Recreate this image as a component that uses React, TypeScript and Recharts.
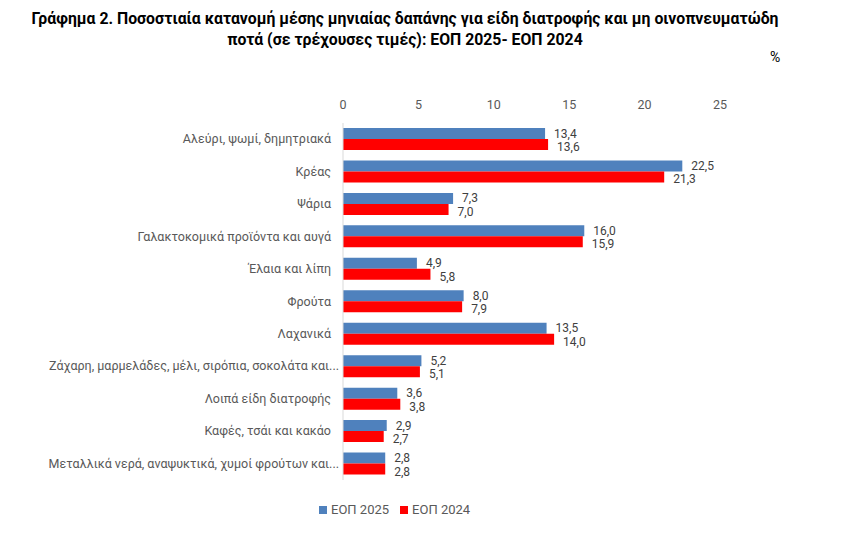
import React from 'react';
import { BarChart, Bar, XAxis, YAxis, LabelList } from 'recharts';

const categories = [
  'Αλεύρι, ψωμί, δημητριακά',
  'Κρέας',
  'Ψάρια',
  'Γαλακτοκομικά προϊόντα και αυγά',
  'Έλαια και λίπη',
  'Φρούτα',
  'Λαχανικά',
  'Ζάχαρη, μαρμελάδες, μέλι, σιρόπια, σοκολάτα και...',
  'Λοιπά είδη διατροφής',
  'Καφές, τσάι και κακάο',
  'Μεταλλικά νερά, αναψυκτικά, χυμοί φρούτων και...',
];
const eop2025 = [13.4, 22.5, 7.3, 16.0, 4.9, 8.0, 13.5, 5.2, 3.6, 2.9, 2.8];
const eop2024 = [13.6, 21.3, 7.0, 15.9, 5.8, 7.9, 14.0, 5.1, 3.8, 2.7, 2.8];
const xTicks = [0, 5, 10, 15, 20, 25];
const seriesNames = ['ΕΟΠ 2025', 'ΕΟΠ 2024'];

const data = categories.map((name, i) => ({ name, eop2025: eop2025[i], eop2024: eop2024[i] }));

const FONT = 'Roboto, "Noto Sans", sans-serif';
const BLUE = '#4f81bd';
const RED = '#ff0000';

const fmt = (v: any) => Number(v).toFixed(1).replace('.', ',');

const CategoryTick = (props: any) => {
  const { x, y, payload } = props;
  const label: string = payload.value;
  // excel leaves a bit of room after the untruncated names
  const shift = label.endsWith('...') ? -4 : 4;
  return (
    <text x={x - shift} y={y} dy={4} textAnchor="end" fill="#595959" fontSize={12.5} fontFamily={FONT}>
      {label}
    </text>
  );
};

// value label next to the bar end, nudged a little so the pair does not collide
const makeValueLabel = (dy: number) => (props: any) => {
  const { x, y, width, height, value } = props;
  return (
    <text
      x={x + width + 9}
      y={y + height / 2 + dy}
      dominantBaseline="central"
      fill="#404040"
      fontSize={12}
      fontFamily={FONT}
    >
      {fmt(value)}
    </text>
  );
};

export default function App() {
  return (
    <div style={{ position: 'absolute', left: 0, top: 0, width: 842, height: 534, background: '#fff' }}>
      <div
        style={{
          position: 'absolute',
          left: 0,
          top: 8,
          width: 810,
          textAlign: 'center',
          fontFamily: FONT,
          fontWeight: 700,
          fontSize: 15.8,
          lineHeight: '21px',
          color: '#000',
          whiteSpace: 'nowrap',
        }}
      >
        Γράφημα 2. Ποσοστιαία κατανομή μέσης μηνιαίας δαπάνης για είδη διατροφής και μη οινοπνευματώδη
        <br />
        ποτά (σε τρέχουσες τιμές): ΕΟΠ 2025- ΕΟΠ 2024
      </div>
      <div style={{ position: 'absolute', left: 770, top: 49, fontFamily: FONT, fontSize: 14, color: '#000' }}>%</div>
      <BarChart
        width={842}
        height={534}
        data={data}
        layout="vertical"
        margin={{ top: 95, right: 122, bottom: 54, left: 0 }}
        barGap={0}
        barSize={11}
      >
        <XAxis
          type="number"
          orientation="top"
          domain={[0, 25]}
          ticks={xTicks}
          axisLine={false}
          tickLine={false}
          tickMargin={8}
          height={28}
          tick={{ fill: '#595959', fontSize: 12.5, fontFamily: FONT }}
        />
        <YAxis
          type="category"
          dataKey="name"
          width={343}
          axisLine={{ stroke: '#d9d9d9' }}
          tickLine={false}
          tick={<CategoryTick />}
          interval={0}
        />
        <Bar dataKey="eop2025" name={seriesNames[0]} fill={BLUE} isAnimationActive={false}>
          <LabelList dataKey="eop2025" content={makeValueLabel(0)} />
        </Bar>
        <Bar dataKey="eop2024" name={seriesNames[1]} fill={RED} isAnimationActive={false}>
          <LabelList dataKey="eop2024" content={makeValueLabel(2.5)} />
        </Bar>
      </BarChart>
      <div
        style={{
          position: 'absolute',
          left: 319,
          top: 502,
          display: 'flex',
          gap: 11,
          fontFamily: FONT,
          fontSize: 13,
          color: '#595959',
        }}
      >
        {seriesNames.map((label, i) => (
          <div key={label} style={{ display: 'flex', alignItems: 'center', gap: 4 }}>
            <span style={{ width: 8, height: 8, background: i === 0 ? BLUE : RED, display: 'inline-block' }} />
            <span>{label}</span>
          </div>
        ))}
      </div>
    </div>
  );
}
